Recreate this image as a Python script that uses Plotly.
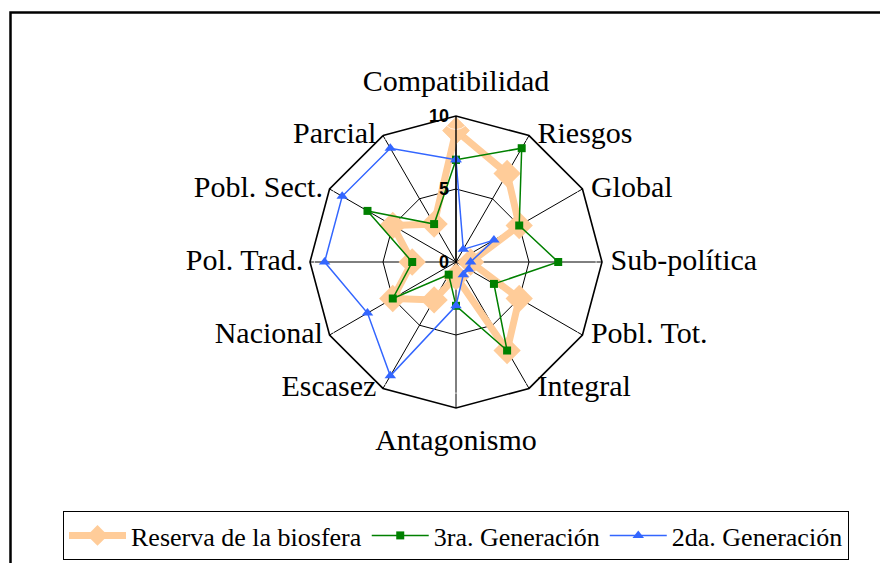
import plotly.graph_objects as go

categorias = ['Compatibilidad', 'Riesgos', 'Global', 'Sub-política', 'Pobl. Tot.', 'Integral',
              'Antagonismo', 'Escasez', 'Nacional', 'Pol. Trad.', 'Pobl. Sect.', 'Parcial']
reserva = [9, 7, 5, 1, 5, 7, 1, 3, 5, 3, 5, 3]
tercera = [7, 9, 5, 7, 3, 7, 3, 1, 5, 3, 7, 3]
segunda = [7, 1, 3, 1, 1, 1, 3, 9, 7, 9, 9, 9]

W, H = 888, 563
OFF = 8  # la página deja 8px de margen en el body
cx, cy, rad = 456 - OFF, 262 - OFF, 146
R_MAX = 10

def cerrar(v):
    return v + v[:1]

# etiquetas de categoría en los vértices, al estilo Excel
# (un marcador invisible controla la separación del texto)
n = len(categorias)
pos_etiqueta, sep_etiqueta = [], []
for i in range(n):
    if i == 0:
        pos_etiqueta.append('top center'); sep_etiqueta.append(27)
    elif i == n // 2:
        pos_etiqueta.append('bottom center'); sep_etiqueta.append(30)
    elif i < n // 2:
        pos_etiqueta.append('middle right'); sep_etiqueta.append(12)
    else:
        pos_etiqueta.append('middle left'); sep_etiqueta.append(9)

fig = go.Figure()
fig.add_trace(go.Scatterpolar(
    r=cerrar(reserva), theta=cerrar(categorias), mode='lines+markers',
    name='Reserva de la biosfera',
    line=dict(color='#FFCC99', width=7),
    marker=dict(symbol='diamond', size=21, color='#FFCC99')))
fig.add_trace(go.Scatterpolar(
    r=cerrar(tercera), theta=cerrar(categorias), mode='lines+markers',
    name='3ra. Generación',
    line=dict(color='#008000', width=1.5),
    marker=dict(symbol='square', size=8, color='#008000')))
fig.add_trace(go.Scatterpolar(
    r=cerrar(segunda), theta=cerrar(categorias), mode='lines+markers',
    name='2da. Generación',
    line=dict(color='#3366FF', width=1.5),
    marker=dict(symbol='triangle-up', size=10, color='#3366FF')))
fig.add_trace(go.Scatterpolar(
    r=[R_MAX] * n, theta=categorias, mode='markers+text', text=categorias,
    textposition=pos_etiqueta, cliponaxis=False, showlegend=False, hoverinfo='skip',
    marker=dict(size=sep_etiqueta, color='rgba(0,0,0,0)'),
    textfont=dict(family='Liberation Serif', size=30, color='black')))

fig.update_layout(
    width=W, height=H,
    paper_bgcolor='white',
    margin=dict(l=0, r=0, t=0, b=0, autoexpand=False),
    font=dict(family='Liberation Serif', color='black'),
    polar=dict(
        domain=dict(x=[(cx - rad) / W, (cx + rad) / W], y=[1 - (cy + rad) / H, 1 - (cy - rad) / H]),
        bgcolor='white',
        gridshape='linear',
        angularaxis=dict(
            rotation=90, direction='clockwise', type='category',
            categoryarray=categorias,
            showline=True, linecolor='black', linewidth=1.6,
            showgrid=True, gridcolor='black', gridwidth=1.4,
            ticks='', showticklabels=False),
        radialaxis=dict(
            range=[0, R_MAX], tickvals=[0, 5, 10], angle=90, side='counterclockwise',
            showline=True, linecolor='black', linewidth=1.4,
            showgrid=True, gridcolor='black', gridwidth=1.4,
            ticks='', tickangle=90,
            tickfont=dict(family='Liberation Sans', size=18, color='black', weight='bold')),
    ),
    showlegend=True,
    legend=dict(
        orientation='h', x=cx / W, xanchor='center', y=(H - 552) / H, yanchor='bottom',
        bordercolor='black', borderwidth=1, bgcolor='white',
        font=dict(family='Liberation Serif', size=26, color='black'),
        itemwidth=57),
    shapes=[dict(type='rect', xref='paper', yref='paper',
                 x0=2.5 / W, y0=-0.05, x1=1.05, y1=1 - 4.5 / H,
                 line=dict(color='black', width=2.5))],
)

fig.write_html("out.html")
